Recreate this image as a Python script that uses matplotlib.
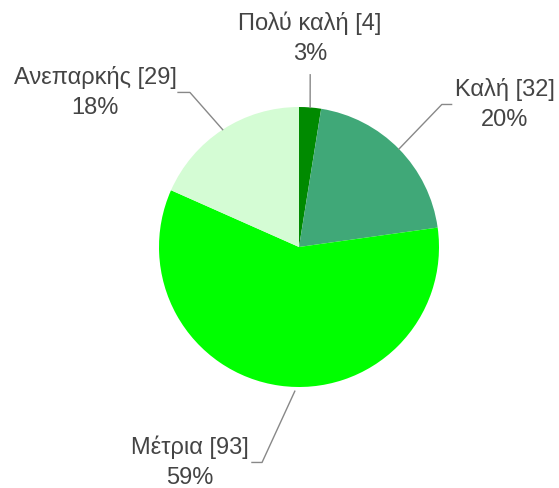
import numpy as np
import matplotlib
matplotlib.use("Agg")
import matplotlib.pyplot as plt

plt.rcParams['font.family'] = ['Liberation Sans', 'DejaVu Sans']

labels = ["Πολύ καλή", "Καλή", "Μέτρια", "Ανεπαρκής"]
counts = [4, 32, 93, 29]
colors = ["#008a00", "#40a878", "#00ff00", "#d4fcd4"]

# label layout in radius units: text centre, elbow, line end
text_pos = [(0.079, 1.489), (1.471, 1.018), (-0.779, -1.539), (-1.457, 1.104)]
elbows = [None, (1.02, 1.018), (-0.264, -1.539), (-0.779, 1.104)]
line_end = [(0.08, 1.23), (1.09, 1.018), (-0.336, -1.539), (-0.864, 1.104)]
anchor_override = {2: (-0.03, -1.03)}

fig = plt.figure(figsize=(5.59, 4.88), dpi=100)
ax = fig.add_axes([159 / 559, 101 / 488, 280 / 559, 280 / 488])
wedges, _ = ax.pie(counts, colors=colors, startangle=90, counterclock=False,
                   radius=1, wedgeprops=dict(linewidth=0))
ax.set_xlim(-1, 1)
ax.set_ylim(-1, 1)
ax.axis('off')

total = sum(counts)
for i, w in enumerate(wedges):
    mid = np.deg2rad((w.theta1 + w.theta2) / 2)
    anchor = anchor_override.get(i, (np.cos(mid), np.sin(mid)))
    pts = [anchor]
    if elbows[i] is not None:
        pts.append(elbows[i])
    pts.append(line_end[i])
    xs, ys = zip(*pts)
    ax.plot(xs, ys, color="#888888", lw=1, clip_on=False)
    pct = round(100 * counts[i] / total)
    ax.text(text_pos[i][0], text_pos[i][1], f"{labels[i]} [{counts[i]}]\n{pct}%",
            ha='center', va='center', multialignment='center',
            fontsize=17, color="#444444", linespacing=1.45, clip_on=False)

fig.savefig("out.png", dpi=100)
